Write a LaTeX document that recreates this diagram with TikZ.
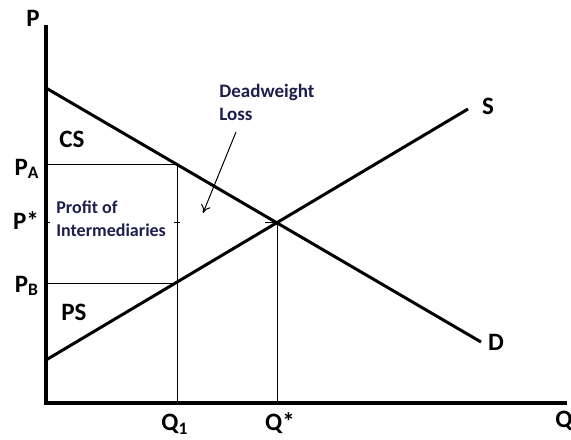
\documentclass[tikz,border=0pt]{standalone}
\usepackage{fontspec}
\setmainfont{Carlito}
\usetikzlibrary{arrows.meta}
\definecolor{labnavy}{RGB}{30,30,78}

\begin{document}
\begin{tikzpicture}[x=0.5pt,y=-0.5pt]
   \tikzstyle{every node}=[inner sep=0pt,font=\bfseries\fontsize{12.5}{14}\selectfont]
   \tikzstyle{note}=[align=left,text=labnavy,font=\bfseries\fontsize{9}{11.5}\selectfont]
   \useasboundingbox (0,0) rectangle (571,439);

   \coordinate (ptop) at (46,25) ;
   \coordinate (o) at (46,403) ;
   \coordinate (qend) at (567,403) ;
   \coordinate (dtop) at (46,88) ;
   \coordinate (dend) at (481,342) ;
   \coordinate (sbot) at (46,360) ;
   \coordinate (send) at (468,109) ;
   \coordinate (eq) at (277,222) ;
   \coordinate (pa) at (46,164) ;
   \coordinate (pb) at (46,283) ;
   \coordinate (a) at (177,164) ;
   \coordinate (b) at (177,283) ;
   \coordinate (q1) at (177,403) ;
   \coordinate (qs) at (277,403) ;

   \draw [line width=2pt,line join=miter] (ptop) -- (o) -- (qend) ;
   \draw [line width=1.5pt] (dtop) -- (dend) ;
   \draw [line width=1.5pt] (sbot) -- (send) ;

   \draw [line width=0.5pt] (pa) -- (a) -- (q1) ;
   \draw [line width=0.5pt] (pb) -- (b) ;
   \draw [line width=0.5pt] (eq) -- (qs) ;
   \draw [line width=0.5pt] (46,222) -- +(4,0) ;
   \draw [line width=0.5pt] (174,222) -- +(6,0) ;
   \draw [line width=0.5pt] (265,222) -- (eq) ;

   \node (pl) at (33,18) {P} ;
   \node (ql) at (564,421) {Q} ;
   \node (sl) at (488,106) {S} ;
   \node (dl) at (496,342) {D} ;
   \node (cs) at (72,139) {CS} ;
   \node (ps) at (74,312) {PS} ;
   \node (pal) at (27,169) {P\textsubscript{A}} ;
   \node (psl) at (26,221) {P*} ;
   \node (pbl) at (27,286) {P\textsubscript{B}} ;
   \node (q1l) at (175,424) {Q\textsubscript{1}} ;
   \node (qsl) at (280,423) {Q*} ;

   \node (prof) [note,anchor=west] at (56,219) {Profit of\\Intermediaries} ;
   \node (dwl) [note,anchor=north west,font=\bfseries\fontsize{9.5}{11.5}\selectfont] at (219,84) {Deadweight\\Loss} ;
   \coordinate (dwltip) at (203,213) ;

   \draw [line width=0.5pt,-{To[length=4pt,width=5pt]}] (236,132) -- (dwltip) ;

\end{tikzpicture}
\end{document}
